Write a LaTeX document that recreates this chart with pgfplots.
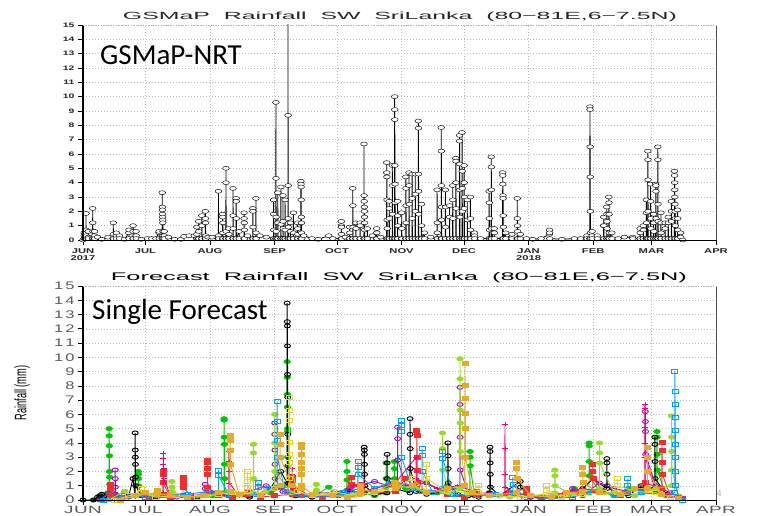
\documentclass[border=0pt]{standalone}
\usepackage{fontspec}
\setmainfont{Liberation Sans}
\newfontfamily\calib{Carlito}
\newfontfamily\gtop[FakeStretch=1.6]{Liberation Sans}
\newfontfamily\gbot[FakeStretch=1.5]{Liberation Sans}
\newfontfamily\gbx[FakeStretch=1.8,LetterSpace=4]{Liberation Sans}
\usepackage{pgfplots}
\pgfplotsset{compat=1.18}
\definecolor{fgreen}{RGB}{0,200,0}
\definecolor{fpurple}{RGB}{165,0,210}
\definecolor{fred}{RGB}{245,45,45}
\definecolor{fpink}{RGB}{240,0,120}
\definecolor{flgreen}{RGB}{150,220,40}
\definecolor{fblue}{RGB}{0,160,255}
\definecolor{fyellow}{RGB}{225,215,50}
\definecolor{forange}{RGB}{230,170,40}
\pgfplotsset{grads/.style={scale only axis, width=633pt, xmin=0, xmax=304, ymin=0, ymax=15,
  xtick={0,30,61,92,122,153,183,214,245,273,304}, ytick={0,...,15},
  grid=major, grid style={gray!55, dash pattern=on 1pt off 2pt, line width=0.4pt},
  axis line style={draw=none}, tick align=outside, xtick pos=bottom, ytick pos=left,
  major tick length=5pt, tick style={black, line width=0.6pt},
  clip mode=individual, /pgf/number format/assume math mode=true}}
\newcommand\frameit{%
  \draw[black, line width=1.6pt] (rel axis cs:0,0) -- (rel axis cs:0,1);
  \draw[black, line width=0.8pt] (rel axis cs:0,0) -- (rel axis cs:1,0);
  \draw[gray!60!black, line width=1pt] (rel axis cs:1,0) -- (rel axis cs:1,1);
  \draw[gray!60, dash pattern=on 1pt off 1.5pt, line width=0.6pt] (rel axis cs:0,1) -- (rel axis cs:1,1);}
\begin{document}
\begin{tikzpicture}[x=1pt,y=1pt]
\path[use as bounding box] (0,0) rectangle (764,515);
% ---------------- top panel ----------------
\begin{axis}[grads, at={(83pt,275pt)}, anchor=south west, height=215pt,
  yticklabel style={font=\gtop\bfseries\fontsize{6.5}{6.5}\selectfont, text=black!85},
  xticklabel style={font=\gtop\bfseries\fontsize{7}{7}\selectfont, align=center, text=black!85},
  xticklabels={{JUN\\2017},JUL,AUG,SEP,OCT,NOV,DEC,{JAN\\2018},FEB,MAR,APR}]
\addplot[black, line width=0.8pt, mark=*, mark size=2pt,
  mark options={solid, fill=white, draw=black, line width=0.45pt, xscale=1.7}] coordinates {
(0,0)(0.5,0.1)(0.55,0.3)(0.6,0.5)(0.65,0.1)
(1.4,0.1)(1.45,1.85)(1.5,0.7)(1.55,0.3)(1.6,0.1)
(2.5,0.1)(2.55,0.6)(2.6,0.2)(2.65,0.1)
(4.6,0.1)(4.65,2.2)(4.7,1.2)(4.75,0.6)(4.8,0.1)
(5.5,0.1)(5.55,0.6)(5.6,0.3)(5.65,0.1)
(7,0.2)(9,0.05)(12,0.2)
(14.5,0.1)(14.55,1.2)(14.6,0.4)(14.65,0.1)
(16,0.3)(16.05,0.5)(16.1,0.1)
(17.5,0.3)(17.55,0.1)(20,0.05)
(22,0.5)(22.05,0.7)(22.1,0.1)
(24,0.1)(24.05,1.0)(24.1,0.6)(24.15,0.1)
(25.5,0.6)(25.55,0.3)(25.6,0.1)
(28,0.05)(31,0.1)(33,0.1)(35,0.1)
(36.5,0.5)(36.55,0.6)(36.6,0.1)
(38,0.1)(38.05,3.3)(38.1,2.3)(38.15,2.1)(38.2,1.8)(38.25,1.6)(38.3,1.4)(38.35,1.2)(38.4,0.6)(38.45,0.1)
(39,0.6)(39.05,0.3)(39.1,0.1)
(41,0.2)(44,0.05)(47,0.05)(48.5,0.25)(51,0.3)(53.5,0.3)
(54.6,0.1)(54.65,0.9)(54.7,0.4)(54.75,0.1)
(55.5,0.1)(55.55,1.3)(55.6,0.6)(55.65,0.1)
(57,0.1)(57.05,1.7)(57.1,1.0)(57.15,0.1)
(58.7,0.1)(58.75,2.0)(58.8,1.5)(58.85,1.2)(58.9,0.3)(58.95,0.1)
(60,0.2)(62,0.2)
(65,0.1)(65.05,3.4)(65.1,0.3)(65.15,0.1)
(67,0.1)(67.05,1.8)(67.1,1.6)(67.15,1.2)(67.2,0.5)(67.25,0.1)
(68.6,0.1)(68.65,5.0)(68.7,4.0)(68.75,0.6)(68.8,0.1)
(70,0.1)(70.05,0.8)(70.1,0.4)(70.15,0.1)
(72,0.1)(72.05,3.6)(72.1,1.7)(72.15,0.8)(72.2,0.1)
(73.5,0.1)(73.55,2.9)(73.6,2.7)(73.65,1.5)(73.7,0.1)
(75,0.6)(75.05,0.1)
(77.3,0.1)(77.35,1.9)(77.4,1.5)(77.45,1.2)(77.5,0.7)(77.55,0.1)
(79,0.3)
(81.5,0.1)(81.55,2.2)(81.6,2.0)(81.65,0.9)(81.7,0.1)
(83,0.1)(83.05,2.9)(83.1,0.5)(83.15,0.1)
(85,0.3)(88,0.2)
(91.5,0.1)(91.55,2.8)(91.6,1.8)(91.65,0.7)(91.7,0.1)
(92.6,0.1)(92.65,9.6)(92.7,4.3)(92.75,1.6)(92.8,0.6)(92.85,0.1)
(93.5,0.1)(93.55,3.3)(93.6,1.2)(93.65,0.1)
(95,0.1)(95.05,3.7)(95.1,1.1)(95.15,0.1)
(96,0.1)(96.05,3.1)(96.1,1.3)(96.15,0.8)(96.2,0.1)
(97,0.1)(97.05,2.8)(97.1,0.7)(97.15,0.1)
(98.4,0.1)(98.45,16)(98.5,8.7)(98.55,3.8)(98.6,1.5)(98.65,0.9)(98.7,0.1)
(99.5,0.1)(99.55,1.2)(99.6,0.6)(99.65,0.1)
(101,0.1)(101.05,1.9)(101.1,0.5)(101.15,0.1)
(103,0.1)(103.05,1.2)(103.1,0.8)(103.15,0.4)(103.2,0.1)
(104.6,0.1)(104.65,4.1)(104.7,3.9)(104.75,3.7)(104.8,2.8)(104.85,1.6)(104.9,1.2)(104.95,0.5)(105,0.1)
(106,0.3)(110,0.1)(113,0.05)(118,0.3)(120,0.1)
(124,0.1)(124.05,1.3)(124.1,1.0)(124.15,0.9)(124.2,0.4)(124.25,0.1)
(126,0.2)
(128,0.1)(128.05,0.9)(128.1,0.5)(128.15,0.1)
(129.5,0.1)(129.55,3.6)(129.6,2.4)(129.65,0.9)(129.7,0.1)
(131,0.1)(131.05,1.2)(131.1,0.8)(131.15,0.1)
(133,0.1)(133.05,1.2)(133.1,1.0)(133.15,0.1)
(134.9,0.1)(134.95,6.7)(135,3.1)(135.05,2.7)(135.1,2.3)(135.15,2.0)(135.2,1.6)(135.25,1.2)(135.3,0.7)(135.35,0.1)
(136.5,0.1)(136.55,0.8)(136.6,0.1)
(139,0.3)
(141,0.1)(141.05,0.8)(141.1,0.5)(141.15,0.1)
(143,0.2)
(145.8,0.1)(145.85,5.4)(145.9,4.7)(145.95,4.4)(146,2.8)(146.05,1.4)(146.1,0.8)(146.15,0.1)
(147,0.1)(147.05,2.7)(147.1,2.2)(147.15,1.5)(147.2,0.1)
(148.5,0.1)(148.55,5.2)(148.6,3.8)(148.65,1.8)(148.7,0.1)
(149.6,0.1)(149.65,10.0)(149.7,9.1)(149.75,8.4)(149.8,5.2)(149.85,3.9)(149.9,2.6)(149.95,0.1)
(151,0.1)(151.05,2.7)(151.1,1.7)(151.15,1.0)(151.2,0.1)
(153,0.1)(153.05,1.9)(153.1,0.8)(153.15,0.1)
(155,0.1)(155.05,4.4)(155.1,3.6)(155.15,2.4)(155.2,1.2)(155.25,0.1)
(156.5,0.1)(156.55,4.7)(156.6,3.8)(156.65,2.5)(156.7,0.1)
(158,0.1)(158.05,4.6)(158.1,2.9)(158.15,1.5)(158.2,0.1)
(159.5,0.1)(159.55,4.6)(159.6,3.2)(159.65,2.0)(159.7,0.1)
(161,0.1)(161.05,8.3)(161.1,7.8)(161.15,4.6)(161.2,3.4)(161.25,1.8)(161.3,0.1)
(162.5,0.1)(162.55,2.5)(162.6,1.0)(162.65,0.1)
(164,0.5)(164.05,0.1)(167,0.2)
(170,0.1)(170.05,3.5)(170.1,1.2)(170.15,0.5)(170.2,0.1)
(172,0.1)(172.05,7.85)(172.1,6.2)(172.15,3.8)(172.2,2.3)(172.25,1.4)(172.3,0.1)
(174,0.1)(174.05,3.5)(174.1,2.3)(174.15,0.9)(174.2,0.1)
(176,0.1)(176.05,2.4)(176.1,1.6)(176.15,0.1)
(177.5,0.1)(177.55,3.8)(177.6,2.8)(177.65,1.5)(177.7,0.1)
(179,0.1)(179.05,5.7)(179.1,5.5)(179.15,4.0)(179.2,2.2)(179.25,0.1)
(180.8,0.1)(180.85,7.3)(180.9,6.9)(180.95,5.3)(181,3.5)(181.05,1.6)(181.1,0.1)
(182,0.1)(182.05,7.5)(182.1,4.8)(182.15,3.6)(182.2,2.0)(182.25,0.1)
(183,0.1)(183.05,5.2)(183.1,4.0)(183.15,3.0)(183.2,2.2)(183.25,0.1)
(184.5,0.1)(184.55,2.8)(184.6,1.4)(184.65,0.1)
(186,0.1)(186.05,3.0)(186.1,1.5)(186.15,0.7)(186.2,0.1)
(188,0.5)(188.05,0.3)(188.1,0.1)(191,0.1)
(195,0.1)(195.05,3.4)(195.1,2.6)(195.15,1.5)(195.2,0.7)(195.25,0.1)
(196,0.1)(196.05,5.8)(196.1,5.1)(196.15,3.5)(196.2,0.8)(196.25,0.1)
(197.5,0.8)(197.55,0.5)(197.6,0.1)
(201.5,0.1)(201.55,4.7)(201.6,4.5)(201.65,3.9)(201.7,3.1)(201.75,2.9)(201.8,1.7)(201.85,0.9)(201.9,0.1)
(203,0.5)(203.05,0.1)(206,0.4)(206.05,0.1)
(208.5,0.1)(208.55,2.9)(208.6,1.5)(208.65,1.0)(208.7,0.6)(208.75,0.1)
(210,0.4)(210.05,0.1)(213,0.1)(216,0.05)(220,0.1)
(224,0.4)(224.05,0.7)(224.1,0.5)(224.15,0.1)
(230,0.05)(236,0.1)(239,0.1)(242,0.3)(242.05,0.1)
(243.4,0.1)(243.45,9.3)(243.5,9.1)(243.55,6.5)(243.6,4.4)(243.65,2.0)(243.7,0.5)(243.75,0.1)
(244.5,0.6)(244.55,0.3)(244.6,0.1)(247,0.3)(247.05,0.1)
(250,0.1)(250.05,1.0)(250.1,1.6)(250.15,1.0)(250.2,0.1)
(251.5,0.1)(251.55,2.3)(251.6,1.8)(251.65,1.3)(251.7,0.8)(251.75,0.1)
(252.5,0.1)(252.55,3.0)(252.6,2.6)(252.65,1.8)(252.7,0.5)(252.75,0.1)
(254,0.5)(254.05,0.1)(257,0.1)(260,0.2)(264,0.2)(264.05,0.1)
(267.5,0.1)(267.55,0.8)(267.6,0.5)(267.65,0.1)
(269,0.1)(269.05,1.0)(269.1,0.7)(269.15,0.1)
(270.5,0.1)(270.55,2.8)(270.6,1.9)(270.65,1.2)(270.7,0.1)
(271.2,0.1)(271.25,6.2)(271.3,5.6)(271.35,4.2)(271.4,2.0)(271.45,0.1)
(272.5,0.1)(272.55,3.9)(272.6,2.7)(272.65,1.5)(272.7,0.8)(272.75,0.1)
(274,0.1)(274.05,1.8)(274.1,1.2)(274.15,0.6)(274.2,0.1)
(275,0.1)(275.05,3.9)(275.1,3.8)(275.15,3.4)(275.2,1.5)(275.25,0.1)
(276,0.1)(276.05,6.5)(276.1,5.6)(276.15,2.5)(276.2,1.3)(276.25,0.1)
(277.5,0.1)(277.55,1.9)(277.6,1.2)(277.65,0.5)(277.7,0.1)
(279.5,0.1)(279.55,1.2)(279.6,0.8)(279.65,0.1)
(281,0.1)(281.05,1.6)(281.1,1.2)(281.15,0.1)
(282.5,0.1)(282.55,2.7)(282.6,2.0)(282.65,1.3)(282.7,0.1)
(284,0.1)(284.05,4.8)(284.1,4.5)(284.15,4.0)(284.2,3.5)(284.25,3.0)(284.3,2.5)(284.35,2.0)(284.4,1.5)(284.45,1.0)(284.5,0.1)
(285.5,0.1)(285.55,2.1)(285.6,1.5)(285.65,0.7)(285.7,0.1)
(287,0.5)(287.05,0.2)(288,0)};
\frameit
\end{axis}
% ---------------- bottom panel ----------------
\begin{axis}[grads, at={(83pt,15pt)}, anchor=south west, height=214pt,
  yticklabel style={font=\gbot\fontsize{11}{11}\selectfont, text=gray!70!black},
  yticklabels={0,1,2,3,4,5,6,7,8,9,1\hspace{2pt}0,1\hspace{2pt}1,1\hspace{2pt}2,1\hspace{2pt}3,1\hspace{2pt}4,1\hspace{2pt}5},
  xticklabel style={font=\gbx\fontsize{10.5}{10.5}\selectfont, align=center, text=gray!70!black, yshift=2.2pt},
  xticklabels={{JUN\\2017},JUL,AUG,SEP,OCT,NOV,DEC,{JAN\\2018},FEB,MAR,APR},
  every axis plot/.append style={line width=0.9pt, mark size=2pt},
  ]
\addplot[fgreen, mark=*, mark options={solid, fill=fgreen, xscale=1.6}] coordinates {
(5,0)(8,0.2)(10,0.4)(12.5,0.5)(12.55,5.0)(12.6,4.5)(12.65,3.8)(12.7,3.1)(12.75,2.0)(12.8,1.6)(12.85,1.1)(13,0.5)(16,0.3)(20,0.6)(22,0.2)(26.5,0.3)(26.55,2.0)(26.6,1.8)(26.65,1.5)(26.7,1.0)(28,0.3)(35,0.1)(42,0.3)(50,0.2)(55,0.1)(62,0.3)(67.7,0.5)(67.75,5.7)(67.8,5.6)(67.85,4.4)(67.9,3.9)(67.95,2.5)(68,1.5)(68.05,0.5)(75,0.4)(80,0.3)(90,0.5)(98,1.0)(98.05,9.7)(98.1,8.6)(98.15,7.4)(98.2,6.5)(98.25,5.0)(98.3,4.8)(98.35,3.0)(100,0.5)(110,0.2)(118,0.9)(120,0.4)(126.7,0.3)(126.75,2.7)(126.8,2.0)(126.85,1.4)(126.9,0.7)(135,0.5)(140,0.3)(145.5,0.5)(145.55,2.6)(145.6,1.5)(145.65,0.9)(149.5,1.0)(149.55,2.7)(149.6,2.2)(149.65,1.5)(155,0.8)(165,0.5)(170,0.5)(175,1.0)(185.8,0.5)(185.85,3.4)(185.9,3.0)(185.95,2.4)(188,0.3)(195,0.5)(200,0.3)(211,0.3)(220,0.1)(230,0.3)(236,0.8)(243,0.5)(243.05,4.0)(243.1,3.8)(243.15,2.7)(243.2,1.7)(248,0.6)(255,0.3)(262,0.8)(268,0.5)(275.6,0.5)(275.65,4.8)(275.7,4.4)(275.75,3.2)(275.8,2.1)(280,0.3)(287,0.1)};
\addplot[black, mark=o, mark options={solid, fill=white, xscale=1.5}] coordinates {
(0,0)(5,0)(7,0.2)(8,0.3)(9,0.4)(10,0.2)(15,0.1)(22,0.3)(24,1.5)(25,0.3)(25.05,4.7)(25.1,3.5)(25.15,3.0)(25.2,2.5)(25.25,1.6)(25.3,1.0)(28,0.3)(35,0.2)(45,0.3)(55,0.2)(62,0.5)(70,0.3)(80,0.2)(90,0.8)(95,2.0)(98,1.2)(98.05,13.8)(98.1,12.5)(98.15,12.2)(98.2,10.8)(98.25,8.8)(98.3,7.2)(98.35,4.6)(98.4,2.4)(98.45,1.2)(102,0.3)(110,0.2)(120,0.4)(128,0.6)(135,0.5)(135.05,3.7)(135.1,3.5)(135.15,3.2)(135.2,2.5)(135.25,1.8)(135.3,1.0)(140,0.4)(146,0.5)(146.05,3.2)(146.1,2.6)(146.15,1.5)(150,0.8)(157,0.5)(157.05,5.7)(157.1,4.6)(157.15,3.6)(157.2,2.2)(160,0.6)(165,0.4)(175.2,0.6)(175.25,4.0)(175.3,3.1)(175.35,2.2)(175.4,1.2)(180,0.4)(185,0.3)(190,0.2)(195.4,0.5)(195.45,3.7)(195.5,3.4)(195.55,2.6)(195.6,1.8)(195.65,0.9)(200,0.3)(210,1.3)(210.05,0.9)(215,0.2)(225,0.1)(235,0.3)(240,0.8)(245,1.5)(251.5,0.8)(251.55,2.9)(251.6,2.6)(251.65,1.8)(251.7,1.0)(255,0.5)(262,0.3)(268,1.0)(274.6,0.8)(274.65,4.4)(274.7,3.9)(274.75,2.7)(274.8,1.5)(280,0.4)(288,0.1)};
\addplot[fpurple, mark=o, mark options={solid, fill=white, xscale=1.5}] coordinates {
(8,0)(12,0.5)(15.4,0.4)(15.45,2.1)(15.5,1.5)(15.55,0.9)(15.6,0.4)(20,0.2)(30,0.3)(37,0.4)(45,0.2)(52,0.3)(58.6,0.4)(58.65,1.1)(58.7,0.8)(62,0.5)(70,0.3)(80,0.6)(88,1.0)(92,0.8)(92.05,5.4)(92.1,4.6)(92.15,3.5)(92.2,2.5)(92.25,1.5)(96,0.6)(105,0.3)(112,0.5)(120,0.5)(128,0.8)(140,1.3)(151,0.8)(151.05,5.1)(151.1,4.3)(151.15,2.8)(155,1.0)(165,1.2)(172,0.7)(181,0.8)(181.05,7.9)(181.1,6.7)(181.15,4.4)(181.2,2.1)(185,0.5)(195,0.4)(205,0.3)(215,0.2)(225,0.3)(235,0.5)(235.05,0.8)(240,0.3)(248,1.2)(255,0.8)(262,0.6)(270,0.8)(270.05,6.2)(270.1,5.5)(270.15,4.8)(270.2,3.2)(275,1.0)(282,0.5)(288,0.1)};
\addplot[fred, mark=square*, mark options={solid, fill=fred, xscale=1.5}] coordinates {
(10,0)(13.3,0.3)(13.35,1.1)(13.4,0.8)(18,0.2)(25,0.3)(32,0.1)(38.4,0.4)(38.45,2.0)(38.5,1.8)(38.55,1.2)(42,0.2)(48,0.3)(48.05,1.6)(48.1,1.4)(48.15,1.2)(48.2,0.9)(52,0.2)(59.7,0.4)(59.75,2.8)(59.8,2.6)(59.85,2.2)(59.9,1.8)(59.95,0.9)(65,0.3)(72,0.2)(79,0.6)(79.05,0.4)(85,0.2)(92,0.3)(100.7,0.4)(100.75,1.6)(100.8,1.2)(100.85,0.7)(105,0.3)(115,0.2)(122,0.3)(129,0.4)(129.05,1.6)(129.1,1.1)(133.5,1.1)(133.55,0.7)(140,0.5)(150,0.6)(155,1.5)(160.3,0.8)(160.35,4.9)(160.4,4.5)(160.45,3.0)(160.5,2.1)(160.55,1.2)(165,0.6)(175,0.4)(183,0.2)(189,0.6)(189.05,0.3)(200,0.3)(205,0.5)(213,0.8)(213.05,0.5)(220,0.2)(230,0.3)(238,0.5)(244.8,0.6)(244.85,2.5)(244.9,2.0)(244.95,1.5)(250,0.6)(258,0.3)(265,0.8)(270,1.2)(278,0.8)(278.05,4.0)(278.1,3.5)(278.15,2.6)(278.2,1.8)(282,0.3)(288,0.1)};
\addplot[fpink, mark=+, mark options={solid, xscale=1.5, line width=0.7pt}] coordinates {
(15,0)(25,0.2)(33,0.3)(38.5,0.5)(38.55,3.3)(38.6,2.9)(38.65,2.5)(38.7,2.2)(38.75,1.5)(42,0.3)(55,0.2)(62,0.4)(70,0.3)(70.05,3.4)(70.1,2.7)(70.15,2.0)(70.2,1.2)(75,0.3)(85,0.3)(95,0.8)(100.5,0.5)(100.55,2.2)(100.6,1.8)(100.65,1.0)(110,0.2)(120,0.3)(130,1.0)(130.05,0.5)(140,0.8)(150,1.2)(160,3.0)(160.05,1.5)(170,0.8)(180,1.0)(190,0.5)(202.6,0.4)(202.65,5.3)(202.7,3.6)(202.75,1.8)(202.8,0.9)(210,0.3)(220,0.2)(230,0.4)(240,0.8)(250,0.5)(260,0.5)(269.8,0.8)(269.85,6.7)(269.9,6.4)(269.95,5.1)(270,4.0)(270.05,3.0)(275,0.6)(285,0.2)};
\addplot[flgreen, mark=*, mark options={solid, fill=flgreen, xscale=1.6}] coordinates {
(12,0)(20,0.6)(25,0.3)(35,0.4)(42.6,0.3)(42.65,1.3)(42.7,0.9)(42.75,0.6)(50,0.2)(60,0.3)(70,0.5)(81.8,0.5)(81.85,3.9)(81.9,3.3)(81.95,1.5)(88,0.6)(92,0.8)(92.05,6.0)(92.1,4.0)(92.15,2.0)(100,0.5)(112,0.4)(112.05,1.1)(112.1,0.7)(120,0.3)(130,0.4)(140,0.5)(150,1.0)(160,0.8)(172.6,0.6)(172.65,4.7)(172.7,3.6)(172.75,2.1)(176,0.5)(181,0.8)(181.05,9.9)(181.1,8.5)(181.15,6.3)(181.2,5.4)(181.25,3.4)(185,0.4)(195,0.3)(205,0.2)(215,0.3)(226.6,0.5)(226.65,2.1)(226.7,1.7)(226.75,1.0)(235,0.4)(248,0.8)(248.05,4.0)(248.1,3.3)(248.15,2.6)(255,0.5)(265,0.3)(275,0.8)(282.6,1.0)(282.65,5.9)(282.7,4.4)(282.75,3.4)(282.8,2.1)(286,0.3)};
\addplot[fblue, mark=square, mark options={solid, fill=white, xscale=1.5}] coordinates {
(10,0)(20,0.3)(30,0.2)(40,0.3)(50,0.4)(60,0.6)(65,0.5)(65.05,2.1)(65.1,1.7)(70,0.4)(84,0.4)(84.05,1.2)(84.1,0.9)(90,0.8)(93.2,0.9)(93.25,6.9)(93.3,5.5)(93.35,4.2)(93.4,3.0)(97,0.6)(105,0.3)(115,0.2)(125,0.5)(132,0.6)(132.05,2.7)(132.1,2.3)(132.15,1.8)(140,0.8)(148,1.3)(152.8,1.0)(152.85,5.6)(152.9,5.2)(152.95,4.8)(153,3.0)(158,0.8)(162.8,0.6)(162.85,3.6)(162.9,3.1)(162.95,2.0)(168,0.5)(172.6,0.8)(172.65,3.4)(172.7,2.9)(178,0.4)(190,0.3)(198,0.4)(206.4,0.5)(206.45,1.6)(206.5,1.1)(212,0.2)(225,0.1)(235,0.2)(245,0.6)(255,0.4)(261.6,0.6)(261.65,1.5)(261.7,1.0)(268,0.5)(278,0.4)(284.2,0.5)(284.25,9.0)(284.3,7.6)(284.35,6.7)(284.4,5.8)(284.45,4.9)(284.5,3.9)(284.55,3.0)(284.6,2.0)(284.65,1.0)(286,0.2)(288,0)};
\addplot[fyellow, mark=square, mark options={solid, fill=white, xscale=1.5}] coordinates {
(15,0)(22,0.3)(28,0.5)(28.05,0.8)(28.1,0.5)(35,0.2)(45,0.3)(55,0.2)(65,0.4)(72,0.5)(79,0.6)(79.05,2.0)(79.1,1.7)(79.15,1.3)(79.2,0.9)(85,0.4)(92,0.8)(99,1.5)(99.05,7.2)(99.1,6.3)(99.15,5.6)(99.2,4.0)(99.25,3.2)(99.3,2.6)(103,0.6)(110,0.3)(120,0.4)(120.05,0.6)(130,0.3)(140,0.5)(150,0.8)(158,1.5)(165,0.6)(165.05,2.5)(165.1,1.5)(175,0.6)(185,0.5)(190,1.0)(190.05,0.5)(200,0.3)(210,0.2)(222.7,0.4)(222.75,1.0)(222.8,0.7)(230,0.2)(240,0.4)(250,0.5)(256.6,0.5)(256.65,1.5)(256.7,1.0)(265,0.6)(275,0.5)(282,0.2)};
\addplot[forange, mark=square*, mark options={solid, fill=forange, xscale=1.5}] coordinates {
(18,0)(25,0.3)(30,0.5)(35.5,0.4)(35.55,0.7)(35.6,0.5)(42,0.3)(50,0.2)(58,0.3)(65,0.5)(70.6,0.6)(70.65,4.5)(70.7,4.2)(70.75,3.5)(70.8,2.5)(75,0.4)(85,0.3)(94.6,1.0)(94.65,4.6)(94.7,3.9)(94.75,3.0)(100,1.0)(104.8,0.8)(104.85,3.9)(104.9,3.7)(104.95,3.2)(105,2.6)(105.05,2.2)(105.1,1.8)(105.15,1.0)(110,0.4)(120,0.3)(127,0.2)(133,0.4)(133.05,1.0)(133.1,0.7)(140,0.6)(150,1.2)(150.05,0.8)(158,1.0)(165,0.5)(175,0.8)(183.4,1.0)(183.45,9.6)(183.5,8.0)(183.55,7.1)(183.6,6.1)(183.65,5.0)(183.7,3.0)(187,0.5)(195,0.3)(208.3,0.5)(208.35,2.6)(208.4,2.2)(208.45,1.5)(215,0.3)(225,0.2)(232,0.5)(240,0.6)(240.05,2.3)(240.1,1.8)(240.15,1.2)(248,0.5)(258,0.4)(265,0.8)(271,0.8)(271.05,3.7)(271.1,3.0)(271.15,2.0)(278,0.4)(286,0.1)};
\frameit
\end{axis}
% ---------------- texts ----------------
\node[anchor=base, inner sep=0, text=black!85] at (400,495) {\resizebox{554pt}{7.5pt}{GSMaP\ \ Rainfall\ \ SW\ \ SriLanka\ \ (80−81E,6−7.5N)}};
\node[anchor=base, inner sep=0] at (399,234) {\resizebox{576pt}{8pt}{Forecast\ \ Rainfall\ \ SW\ \ SriLanka\ \ (80−81E,6−7.5N)}};
\node[anchor=base west, inner sep=0] at (100,450) {\calib\fontsize{29}{29}\selectfont GSMaP-NRT};
\node[anchor=base west, inner sep=0] at (92,195) {\calib\fontsize{29}{29}\selectfont Single Forecast};
\node[rotate=90, inner sep=0] at (22,122) {\resizebox{55pt}{12pt}{Rainfall (mm)}};
\node[anchor=base, inner sep=0, text=gray!60] at (719,19) {\fontsize{9}{9}\selectfont 4};
\end{tikzpicture}
\end{document}
